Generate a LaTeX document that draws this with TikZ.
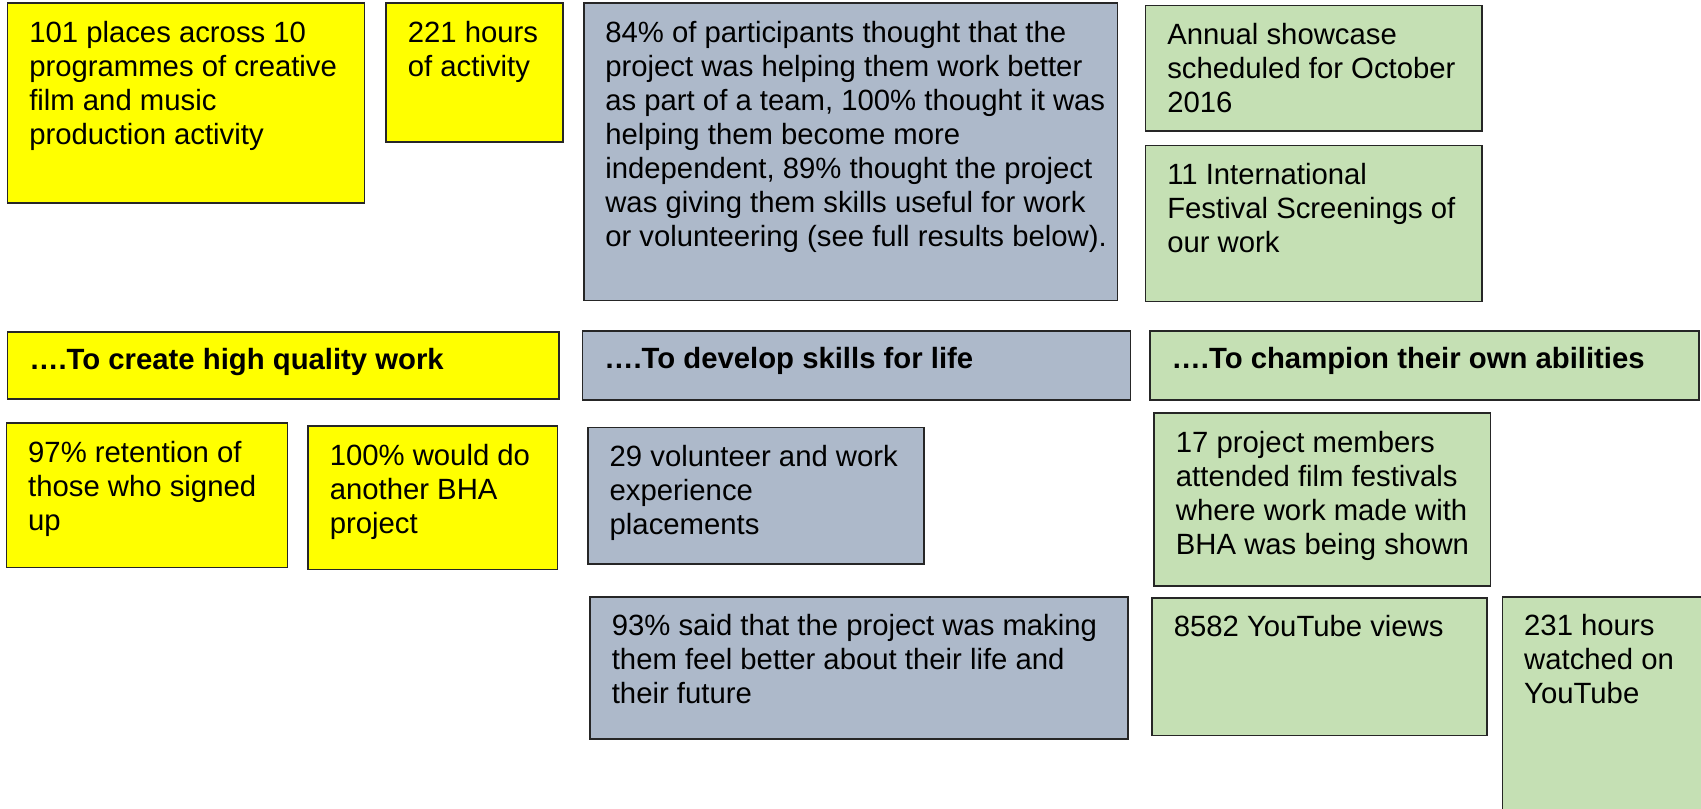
\documentclass[tikz,border=0pt]{standalone}
\usepackage{fontspec}
\setmainfont{Liberation Sans}
\definecolor{bhayellow}{HTML}{FFFF00}
\definecolor{bhagray}{HTML}{ADB9CA}
\definecolor{bhagreen}{HTML}{C5E0B4}
\tikzset{
  sbox/.style={draw=black!85, line width=0.8pt, anchor=north west, inner sep=0pt, outer sep=0pt,
    font=\fontsize{13.5}{15.65}\selectfont},
}
% name, fill, x1, y1, x2, y2, top pad, text
\newcommand{\statbox}[8]{%
  \pgfmathsetmacro{\bw}{(#5-#3)*0.5}%
  \pgfmathsetmacro{\bh}{(#6-#4)*0.5}%
  \pgfmathsetmacro{\tw}{\bw-10}%
  \node[sbox, fill=#2] (#1) at (#3,#4)
    {\hspace*{10pt}\parbox[t][\bh pt][t]{\tw pt}{\vspace*{#7}\raggedright\rule{0pt}{10pt}#8}};%
}
\begin{document}
\begin{tikzpicture}[x=0.5pt,y=-0.5pt]
\useasboundingbox (0,0) rectangle (1568,745);
\clip (0,0) rectangle (1568,745);
% row 1
\statbox{places}{bhayellow}{7}{3}{336}{187}{8pt}{101 places across 10\\programmes of creative\\film and music\\production activity}
\statbox{hours}{bhayellow}{356}{3}{519}{131}{8pt}{221 hours\\of activity}
\statbox{survey}{bhagray}{538}{3}{1030}{277}{8pt}{84\% of participants thought that the\\project was helping them work better\\as part of a team, 100\% thought it was\\helping them become more\\independent, 89\% thought the project\\was giving them skills useful for work\\or volunteering (see full results below).}
\statbox{showcase}{bhagreen}{1056}{5}{1366}{121}{8pt}{Annual showcase\\scheduled for October\\2016}
\statbox{screenings}{bhagreen}{1056}{134}{1366}{278}{8pt}{11 International\\Festival Screenings of\\our work}
% headers
\statbox{quality}{bhayellow}{7}{306}{515}{368}{7.5pt}{\bfseries ….To create high quality work}
\statbox{skills}{bhagray}{537}{305}{1042}{369}{7.5pt}{\bfseries ….To develop skills for life}
\statbox{champion}{bhagreen}{1060}{305}{1566}{369}{7.5pt}{\bfseries ….To champion their own abilities}
% row 3
\statbox{retention}{bhayellow}{6}{390}{265}{523}{8pt}{97\% retention of\\those who signed\\up}
\statbox{again}{bhayellow}{284}{393}{514}{525}{8pt}{100\% would do\\another BHA\\project}
\statbox{placements}{bhagray}{542}{394}{852}{520}{8pt}{29 volunteer and work\\experience\\placements}
\statbox{feel}{bhagray}{544}{550}{1040}{681}{8pt}{93\% said that the project was making\\them feel better about their life and\\their future}
\statbox{festivals}{bhagreen}{1064}{381}{1374}{540}{8pt}{17 project members\\attended film festivals\\where work made with\\BHA was being shown}
\statbox{views}{bhagreen}{1062}{551}{1371}{678}{8pt}{8582 YouTube views}
\statbox{watched}{bhagreen}{1385}{550}{1590}{770}{8pt}{231 hours\\watched on\\YouTube}
\end{tikzpicture}
\end{document}
